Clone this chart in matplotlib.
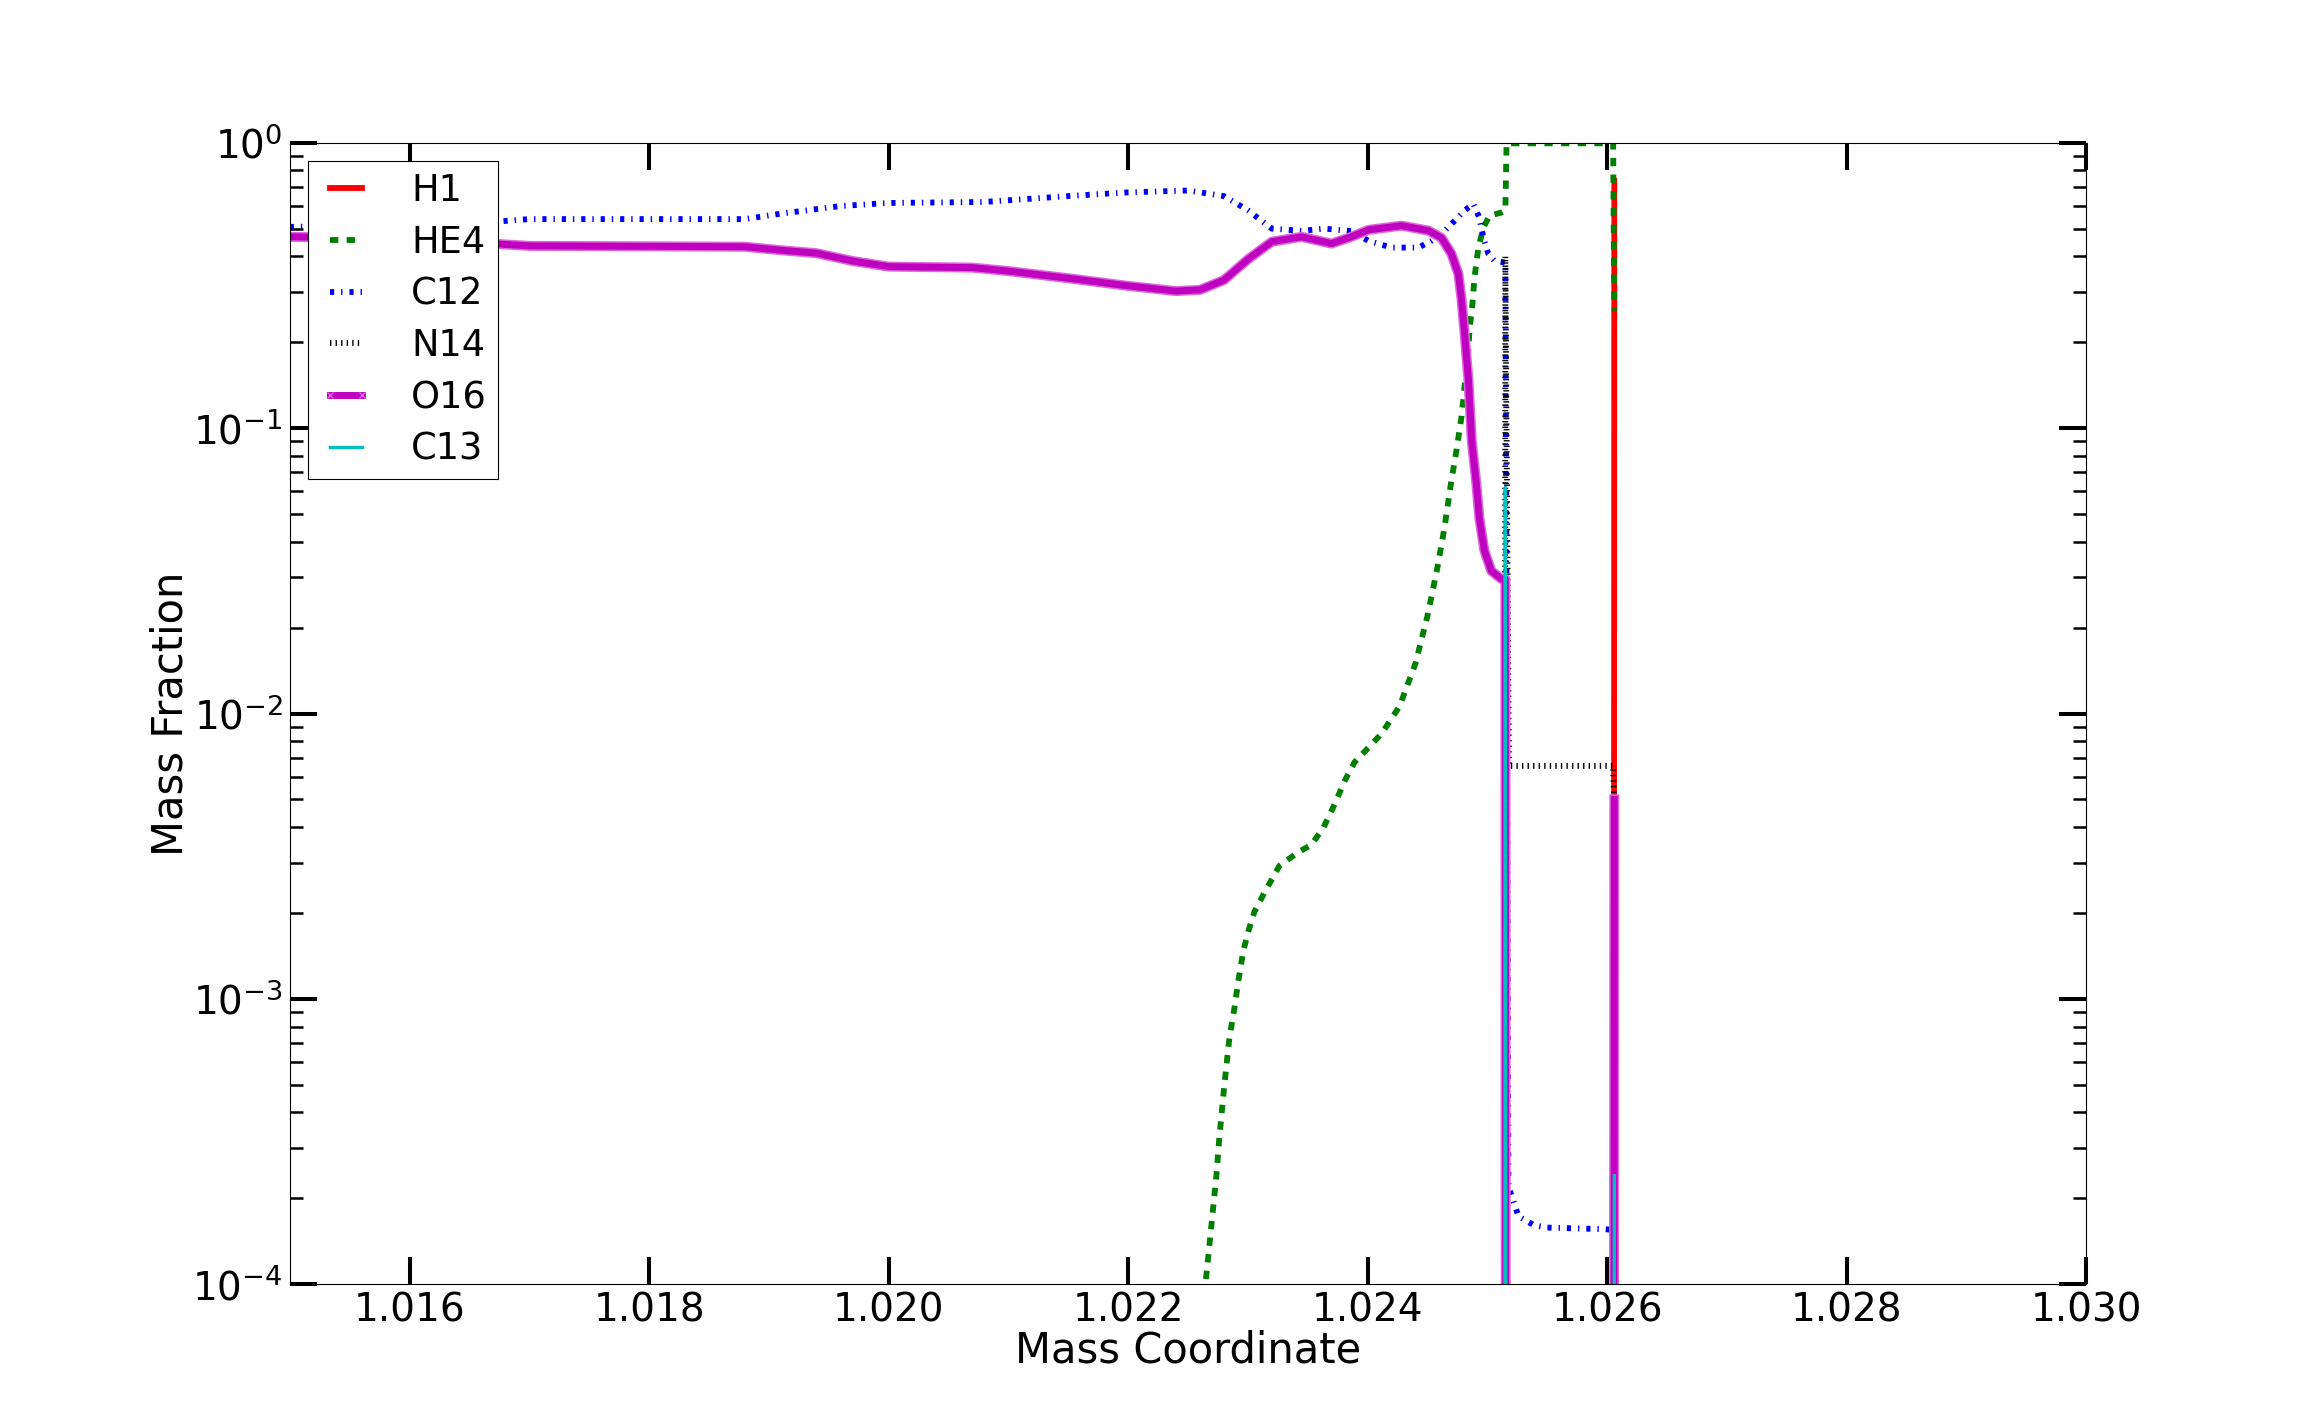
import numpy as np
import matplotlib
matplotlib.use("Agg")
import matplotlib.pyplot as plt
from matplotlib.lines import Line2D
import matplotlib.patheffects as pe
from matplotlib.ticker import MultipleLocator, FormatStrFormatter, LogLocator

plt.rcParams['axes.unicode_minus'] = False
plt.rcParams['lines.scale_dashes'] = False
plt.rcParams['font.family'] = 'DejaVu Sans'

TINY = 1e-10  # values below the plotted range

# H1
h1_m = [1.01500, 1.02605, 1.02606]
h1_x = [TINY, TINY, 0.735]

# HE4
he4_m = [1.01500, 1.02250, 1.022654, 1.022695, 1.022737, 1.022762, 1.022804, 1.022846,
         1.022888, 1.022921, 1.022963, 1.023005, 1.023055, 1.023139, 1.023264, 1.023423,
         1.023532, 1.023632, 1.023724, 1.023808, 1.023891, 1.024008, 1.024117, 1.024267,
         1.02440, 1.02450, 1.02458, 1.024640, 1.024699, 1.024741, 1.024783, 1.024808,
         1.024841, 1.024850, 1.024875, 1.024892, 1.024925, 1.024967, 1.025017, 1.025117,
         1.025150, 1.025160, 1.026050, 1.02606]
he4_x = [TINY, 3.0e-5, 1.08e-4, 1.6e-4, 2.4e-4, 3.27e-4, 5.0e-4, 7.3e-4,
         9.3e-4, 1.16e-3, 1.48e-3, 1.73e-3, 2.02e-3, 2.36e-3, 2.93e-3, 3.27e-3,
         3.47e-3, 3.99e-3, 4.8e-3, 5.8e-3, 6.75e-3, 7.6e-3, 8.5e-3, 1.06e-2,
         1.5e-2, 2.2e-2, 3.2e-2, 0.0443, 0.0653, 0.083, 0.109, 0.138,
         0.187, 0.219, 0.272, 0.336, 0.429, 0.504, 0.555, 0.569,
         0.578, 0.995, 0.995, 0.258]

# C12
c12_m = [1.01500, 1.01600, 1.01670, 1.01700, 1.01880, 1.01910, 1.01960, 1.02000,
         1.02080, 1.02150, 1.02200, 1.02250, 1.02280, 1.02300, 1.02320, 1.023447,
         1.023640, 1.023865, 1.024007, 1.024199, 1.024424, 1.024533, 1.024641, 1.024725,
         1.024808, 1.024883, 1.024933, 1.024967, 1.025008, 1.025058, 1.025150, 1.025176,
         1.025260, 1.025390, 1.025500, 1.025980, 1.02606]
c12_x = [0.507, 0.515, 0.528, 0.540, 0.540, 0.564, 0.600, 0.615,
         0.620, 0.650, 0.670, 0.680, 0.650, 0.580, 0.500, 0.491,
         0.500, 0.490, 0.453, 0.429, 0.429, 0.453, 0.490, 0.532,
         0.578, 0.611, 0.546, 0.464, 0.408, 0.386, 0.380, 2.2e-4,
         1.73e-4, 1.61e-4, 1.58e-4, 1.56e-4, 1.55e-4]

# N14
n14_m = [1.01500, 1.02514, 1.02515, 1.02518, 1.02605, 1.02606]
n14_x = [TINY, TINY, 0.40, 6.55e-3, 6.55e-3, 4.5e-3]

# O16
o16_m = [1.01500, 1.01620, 1.01680, 1.01700, 1.01880, 1.01910, 1.01940, 1.01970,
         1.02000, 1.02070, 1.02100, 1.02150, 1.02200, 1.02240, 1.02260, 1.02280,
         1.02300, 1.02320, 1.023447, 1.023698, 1.023865, 1.024007, 1.024283, 1.024508,
         1.024617, 1.024700, 1.024758, 1.024783, 1.024808, 1.024842, 1.024870, 1.024908,
         1.024933, 1.024975, 1.025033, 1.025117, 1.025150, 1.025160, 1.026050, 1.02606]
o16_x = [0.468, 0.460, 0.440, 0.435, 0.432, 0.420, 0.410, 0.385,
         0.368, 0.365, 0.355, 0.335, 0.315, 0.302, 0.305, 0.330,
         0.390, 0.450, 0.468, 0.443, 0.468, 0.495, 0.512, 0.492,
         0.464, 0.408, 0.347, 0.286, 0.219, 0.147, 0.090, 0.0638,
         0.0485, 0.0372, 0.0316, 0.0296, 0.0296, TINY, TINY, 5.0e-3]

# C13
c13_m = [1.01500, 1.02514, 1.02515, 1.02516, 1.02605, 1.02606]
c13_x = [TINY, TINY, 0.062, TINY, TINY, 2.4e-4]

LW = 4.2
fig = plt.figure(figsize=(23.18, 14.27), dpi=100)
fig.subplots_adjust(left=0.125, right=0.9, bottom=0.1, top=0.9)
ax = fig.add_subplot(111)

ax.plot(h1_m, h1_x, color='r', lw=LW, ls='-', label='H1')
ax.plot(he4_m, he4_x, color='g', lw=LW, ls=(0, (6, 6)), label='HE4')
ax.plot(c12_m, c12_x, color='b', lw=LW, ls=(0, (3, 5, 1, 5)), label='C12')
ax.plot(n14_m, n14_x, color='k', lw=LW, ls=(0, (1, 3)), label='N14')
ax.plot(o16_m, o16_x, color='m', lw=LW + 0.8,
        path_effects=[pe.Stroke(linewidth=LW + 3.0, foreground='#dd66dd'), pe.Normal()])
ax.plot(c13_m, c13_x, color='c', lw=2.4, label='C13')

ax.set_yscale('log')
ax.set_xlim(1.015, 1.030)
ax.set_ylim(1e-4, 1)
ax.xaxis.set_major_locator(MultipleLocator(0.002))
ax.xaxis.set_major_formatter(FormatStrFormatter('%.3f'))
ax.yaxis.set_major_locator(LogLocator(base=10))
ax.yaxis.set_minor_locator(LogLocator(base=10, subs=np.arange(2, 10)))

ax.tick_params(which='both', direction='in', top=True, right=True, labelsize=28, pad=5)
ax.tick_params(which='major', length=19.5, width=2.9)
ax.tick_params(which='minor', length=9.5, width=1.8)
for sp in ax.spines.values():
    sp.set_linewidth(0.8)

ax.set_xlabel('Mass Coordinate', fontsize=30, labelpad=0)
ax.set_ylabel('Mass Fraction', fontsize=30, labelpad=1)

handles = [
    Line2D([], [], color='r', lw=LW, ls='-'),
    Line2D([], [], color='g', lw=LW, ls=(0, (6, 6))),
    Line2D([], [], color='b', lw=LW, ls=(0, (3, 5, 1, 5))),
    Line2D([], [], color='k', lw=LW, ls=(0, (1, 3))),
    Line2D([], [], color='m', lw=LW + 0.8, marker='x', ms=5, mew=1, mec='#dd66dd'),
    Line2D([], [], color='c', lw=2.4),
]
labels = ['H1', 'HE4', 'C12', 'N14', 'O16', 'C13']
leg = ax.legend(handles, labels, loc='upper left', fontsize=26.5, numpoints=2,
                fancybox=False, framealpha=1, edgecolor='k', handlelength=1.45,
                handletextpad=1.05, labelspacing=0.4, borderpad=0.3, borderaxespad=0.5)
leg.get_frame().set_linewidth(0.8)

fig.savefig('out.png', dpi=100)
